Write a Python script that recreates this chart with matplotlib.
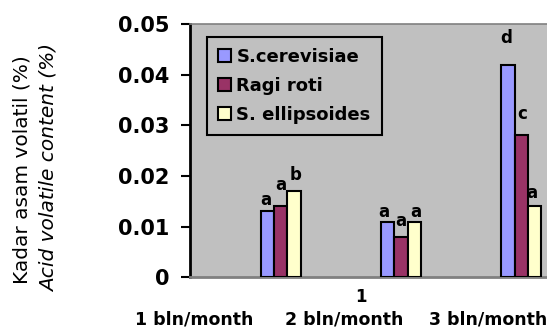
import numpy as np
import matplotlib.pyplot as plt

plt.rcParams['font.family'] = ['DejaVu Sans']

# data
series = ["S.cerevisiae", "Ragi roti", "S. ellipsoides"]
months = ["1 bln/month", "2 bln/month", "3 bln/month"]
cerevisiae = [0.013, 0.011, 0.042]
ragi_roti = [0.014, 0.008, 0.028]
ellipsoides = [0.017, 0.011, 0.014]
letters_cerevisiae = ["a", "a", "d"]
letters_ragi = ["a", "a", "c"]
letters_ellipsoides = ["b", "a", "a"]
yticks = [0, 0.01, 0.02, 0.03, 0.04, 0.05]
ytick_labels = ["0", "0.01", "0.02", "0.03", "0.04", "0.05"]

colors = ["#9999FF", "#993366", "#FFFFCC"]
# letter offsets above bar tops (points), one row per series
label_offsets = [[(-1.2, 4.8), (-2.9, 3.6), (-1.2, 15.6)],
                 [(0, 12.0), (0, 8.1), (0.7, 12.0)],
                 [(1.4, 8.4), (1.2, 3.6), (-2.2, 6.0)]]

W, H = 547, 328
fig = plt.figure(figsize=(W / 100, H / 100), dpi=100)
ax = fig.add_axes([190 / W, 1 - 277.3 / H, 1 - 190 / W, (277.3 - 24) / H])
ax.set_facecolor("#C0C0C0")

x = np.arange(len(months))
w = 0.111
all_vals = [cerevisiae, ragi_roti, ellipsoides]
all_letters = [letters_cerevisiae, letters_ragi, letters_ellipsoides]
for i, (vals, lets) in enumerate(zip(all_vals, all_letters)):
    bars = ax.bar(x + (i - 1) * w, vals, w, color=colors[i], edgecolor="black",
                  linewidth=1.5, label=series[i], zorder=3)
    for j, b in enumerate(bars):
        ax.annotate(lets[j], (b.get_x() + b.get_width() / 2, b.get_height()),
                    xytext=label_offsets[i][j], textcoords="offset points",
                    ha="center", va="baseline", fontsize=12, fontweight="bold")

ax.set_xlim(-0.7536, 2.2127)
ax.set_ylim(0, 0.05)
ax.set_yticks(yticks)
ax.set_yticklabels(ytick_labels, fontsize=15, fontweight="bold")
ax.tick_params(axis="y", length=6.5, width=1.5, pad=8)
ax.set_xticks([0.667])
ax.set_xticklabels(["1"], fontsize=12, fontweight="bold")
ax.tick_params(axis="x", length=0, pad=8)

ax.spines["left"].set_linewidth(2)
ax.spines["bottom"].set_color("#808080")
ax.spines["bottom"].set_linewidth(2)
ax.spines["top"].set_color("#808080")
ax.spines["top"].set_linewidth(1.2)
ax.spines["right"].set_visible(False)

leg = ax.legend(loc="upper left", bbox_to_anchor=(206.7 / W, 1 - 37.3 / H),
                bbox_transform=fig.transFigure, borderaxespad=0, fancybox=False,
                edgecolor="black", facecolor="#C0C0C0", framealpha=1,
                prop={"size": 13, "weight": "bold"}, handlelength=0.75,
                handleheight=0.75, handletextpad=0.3, labelspacing=0.6,
                borderpad=0.6)
leg.get_frame().set_linewidth(1.5)

for label, cx in zip(months, [194, 344.5, 488.5]):
    fig.text(cx / W, 1 - 324.4 / H, label, ha="center", va="baseline",
             fontsize=12.5, fontweight="bold")

fig.text(22.5 / W, 1 - 170 / H, "Kadar asam volatil (%)", rotation=90,
         ha="center", va="center", fontsize=14.5)
fig.text(49 / W, 1 - 167.5 / H, "Acid volatile content (%)", rotation=90,
         ha="center", va="center", fontsize=14.5, style="italic")

fig.savefig("out.png", dpi=100)
